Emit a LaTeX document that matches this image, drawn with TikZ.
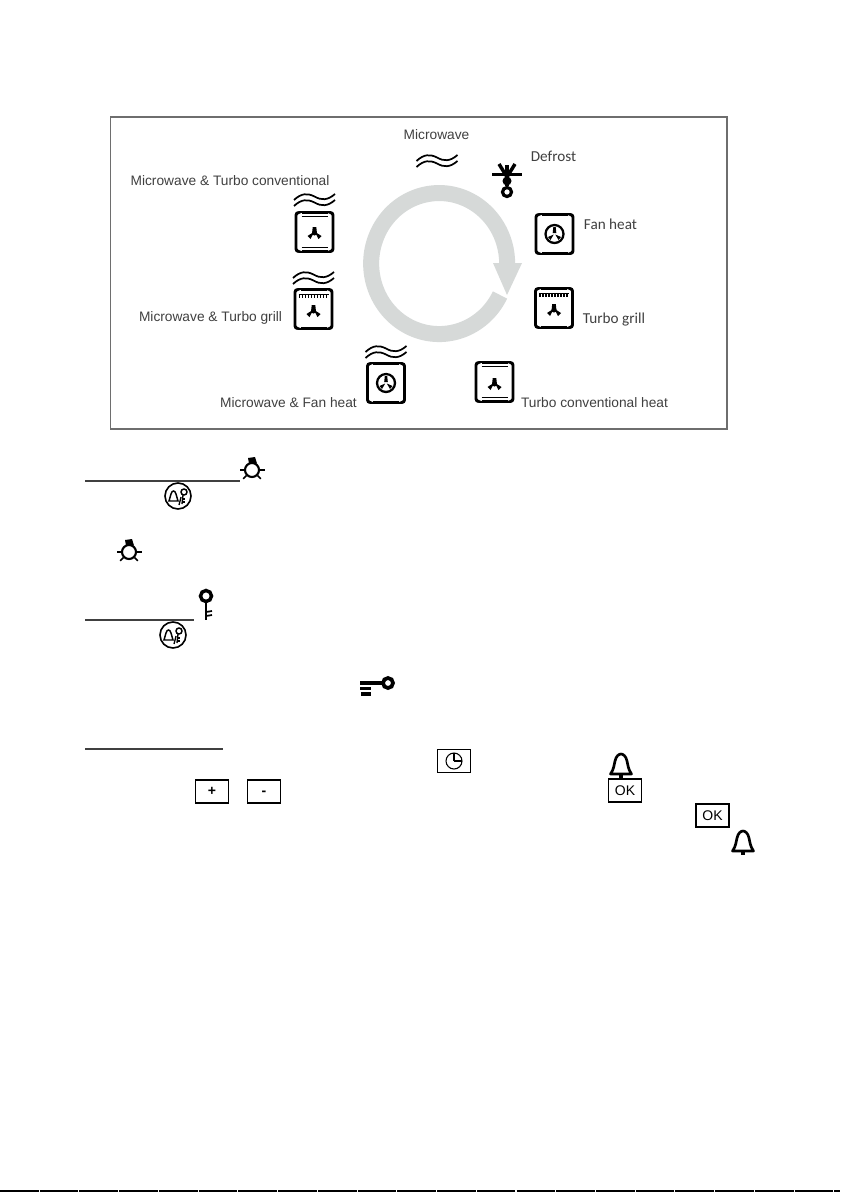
\documentclass[tikz,border=0pt]{standalone}
\usepackage{fontspec}
\setmainfont{Liberation Sans}
\newfontfamily\calibrifont{Carlito}
\definecolor{labelgray}{HTML}{404040}
\definecolor{ringgray}{HTML}{D6D9D8}
\definecolor{framegray}{HTML}{6E6E6E}
\tikzset{
  label/.style={text=labelgray, inner sep=0pt, font=\fontsize{10.3}{12}\selectfont},
  labelcal/.style={text=labelgray, inner sep=0pt, font=\calibrifont\fontsize{11.4}{13}\selectfont},
  keybox/.style={draw=black, line width=1.1pt, minimum width=25pt, minimum height=17.5pt, inner sep=0pt,
    font=\fontsize{10.5}{12}\selectfont},
  pics/ovenbox/.style={code={
    \draw [line width=2.2pt, rounded corners=2pt] (-16,-19.5) -- (-18.5,-19.5) -- (-18.5,19.5) -- (-16,19.5);
    \draw [line width=2.2pt, rounded corners=2pt] (16,-19.5) -- (18.5,-19.5) -- (18.5,19.5) -- (16,19.5);
    \draw [line width=1.8pt] (-13,-19.5) -- (13,-19.5);
    \draw [line width=1.8pt] (-13,19.5) -- (13,19.5);
  }},
  pics/topbottom/.style={code={
    \draw [line width=1.1pt] (-13,-15.5) -- (13,-15.5);
    \draw [line width=1.1pt] (-13,15.5) -- (13,15.5);
  }},
  pics/grillbar/.style={code={
    \draw [line width=1.2pt] (-15,-14.5) -- (15,-14.5);
    \foreach \tx in {-14,-11,...,14} {\draw [line width=1pt] (\tx,-14.5) -- (\tx,-11.5);}
  }},
  pics/smallfan/.style={code={
    \fill (-1.8,-6) -- (1.8,-6) -- (2.4,0) -- (-2.4,0) -- cycle;
    \fill (0,-1.5) -- (7,3) -- (4,6) -- cycle;
    \fill (0,-1.5) -- (-7,3) -- (-4,6) -- cycle;
    \fill (0,0) circle (2.5);
  }},
  pics/ringfan/.style={code={
    \draw [line width=1.7pt] (0,0) circle (9);
    \fill (-1.2,-7) -- (1.2,-7) -- (1.8,-1) -- (-1.8,-1) -- cycle;
    \fill (0.8,0.5) -- (6.5,3) -- (4,6) -- cycle;
    \fill (-0.8,0.5) -- (-6.5,3) -- (-4,6) -- cycle;
  }},
  pics/waves/.style={code={
    \foreach \wy in {-3,3} {
      \draw [line width=1.3pt, yshift=\wy*(-0.75pt)] (-20.5,3) .. controls (-13,-4) and (-7,-4) .. (0,-0.5)
        .. controls (7,3.5) and (13,3.5) .. (20.5,-3);
    }
  }},
  pics/sunlamp/.style={code={
    \draw [line width=1.6pt] (0,0) circle (7);
    \foreach \ta in {0,45,135,180,270} {\draw [line width=1.2pt] (\ta:8) -- (\ta:12.5);}
    \fill (-4,-12) -- (3,-13) -- (5,-6.5) -- (-3,-6.5) -- cycle;
  }},
  pics/lockbell/.style={code={
    \draw [line width=1.2pt] (0,0) circle (13);
    \draw [line width=1.1pt] (-9,5) -- (-7,-2) .. controls (-6,-6) and (-3,-6) .. (-2,-2) -- (0,5) -- cycle;
    \draw [line width=1.1pt] (6,-4) circle (3);
    \draw [line width=1pt] (5,-1) -- (4,8);
    \draw [line width=1pt] (4,3) -- (7,3);
    \draw [line width=1pt] (4,6) -- (7,6);
    \draw [line width=1pt] (1,9) -- (3,1);
  }},
  pics/bell/.style={code={
    \draw [line width=2pt, line join=round] (-10.5,9) -- (10.5,9) .. controls (7,4) and (7,0) .. (6,-4)
      .. controls (5,-9) and (2,-11) .. (0,-11) .. controls (-2,-11) and (-5,-9) .. (-6,-4)
      .. controls (-7,0) and (-7,4) .. cycle;
    \fill (-2,9) rectangle (2,12.5);
  }}
}
\begin{document}
\begin{tikzpicture}[x=0.75pt, y=-0.75pt]
  \useasboundingbox (0,0) rectangle (840,1192);
  \fill [white] (0,0) rectangle (840,1192);
  % frame of the mode picture
  \draw [framegray, line width=0.9pt] (110.5,117) rectangle (727,429);
  % ring with arrow
  \draw [ringgray, line width=12pt] (500,295) arc[start angle=26.5, delta angle=333.5, x radius=68, y radius=70.5];
  \fill [ringgray] (493,263) -- (522,263) -- (507,295) -- cycle;
  % labels
  \node [label] (microlabel) at (436.5,135) {Microwave};
  \node [labelcal] (defrostlabel) at (553.5,156) {Defrost};
  \node [labelcal] (fanlabel) at (610.5,224) {Fan heat};
  \node [labelcal] (grilllabel) at (614,320) {Turbo grill};
  \node [label] (convlabel) at (594.5,403) {Turbo conventional heat};
  \node [label] (mwconvlabel) at (230,181) {Microwave \& Turbo conventional};
  \node [label] (mwgrilllabel) at (210.5,318) {Microwave \& Turbo grill};
  \node [label] (mwfanlabel) at (288.5,403) {Microwave \& Fan heat};
  % microwave and defrost
  \pic at (437,161) {waves};
  \draw [line width=2.6pt] (492,174.5) -- (522,174.5);
  \draw [line width=2.6pt] (499,164) -- (507,177);
  \draw [line width=2.6pt] (515,164) -- (507,177);
  \draw [line width=2.6pt] (507,165) -- (507,186);
  \fill (507,181) circle (4.5);
  \draw [line width=2.4pt] (507,192) circle (4.5);
  % oven symbols on the right
  \pic at (554.5,234) {ovenbox};
  \pic at (554.5,234) {ringfan};
  \pic at (554,308) {ovenbox};
  \pic at (554,308) {grillbar};
  \pic at (554,310) {smallfan};
  \pic at (494.5,382) {ovenbox};
  \pic at (494.5,382) {topbottom};
  \pic at (494.5,384) {smallfan};
  % oven symbols on the left
  \pic at (314.5,200) {waves};
  \pic at (314.5,232) {ovenbox};
  \pic at (314.5,232) {topbottom};
  \pic at (314.5,233) {smallfan};
  \pic at (313.5,278) {waves};
  \pic at (313.5,309) {ovenbox};
  \pic at (313.5,309) {grillbar};
  \pic at (313.5,311) {smallfan};
  \pic at (386,352) {waves};
  \pic at (386,383) {ovenbox};
  \pic at (386,383) {ringfan};
  % rules
  \draw [labelgray, line width=0.8pt] (85,481) -- (240,481);
  \draw [labelgray, line width=0.8pt] (85,620) -- (194,620);
  \draw [labelgray, line width=1.5pt] (85,749) -- (223,749);
  % lamp and lock symbols
  \pic at (252,470) {sunlamp};
  \pic at (178,496) {lockbell};
  \pic at (129,552) {sunlamp};
  \pic at (173,635) {lockbell};
  % vertical key
  \draw [line width=2.6pt] (206,596) circle (5.5);
  \draw [line width=1.8pt] (206,602) -- (206,620);
  \draw [line width=1.3pt] (206,612) -- (212,611);
  \draw [line width=1.3pt] (206,616) -- (212,615);
  % horizontal key
  \draw [line width=2.8pt] (388,683) circle (5);
  \draw [line width=2.8pt] (360,683) -- (382,683);
  \draw [line width=2.8pt] (360,688.5) -- (371,688.5);
  \draw [line width=2.8pt] (361,694) -- (371,694);
  % key buttons
  \node [keybox] (clockkey) at (454,761) {};
  \draw [line width=0.8pt] (clockkey.center) circle (8);
  \draw [line width=0.8pt] (clockkey.center) -- +(0,-8);
  \draw [line width=0.8pt] (clockkey.center) -- +(8,0);
  \node [keybox] (pluskey) at (212,791.5) {\textbf{+}};
  \node [keybox, text height=6pt, text depth=0pt] (minuskey) at (264,791.5) {\textbf{-}};
  \node [keybox] (okone) at (625,790.5) {OK};
  \node [keybox] (oktwo) at (712.5,815.5) {OK};
  \pic at (621,765) {bell};
  \pic at (743,842) {bell};
  % bottom edge of the page
  \draw [black, line width=1.6pt, dash pattern=on 29pt off 0.8pt] (0,1191) -- (840,1191);
\end{tikzpicture}
\end{document}
